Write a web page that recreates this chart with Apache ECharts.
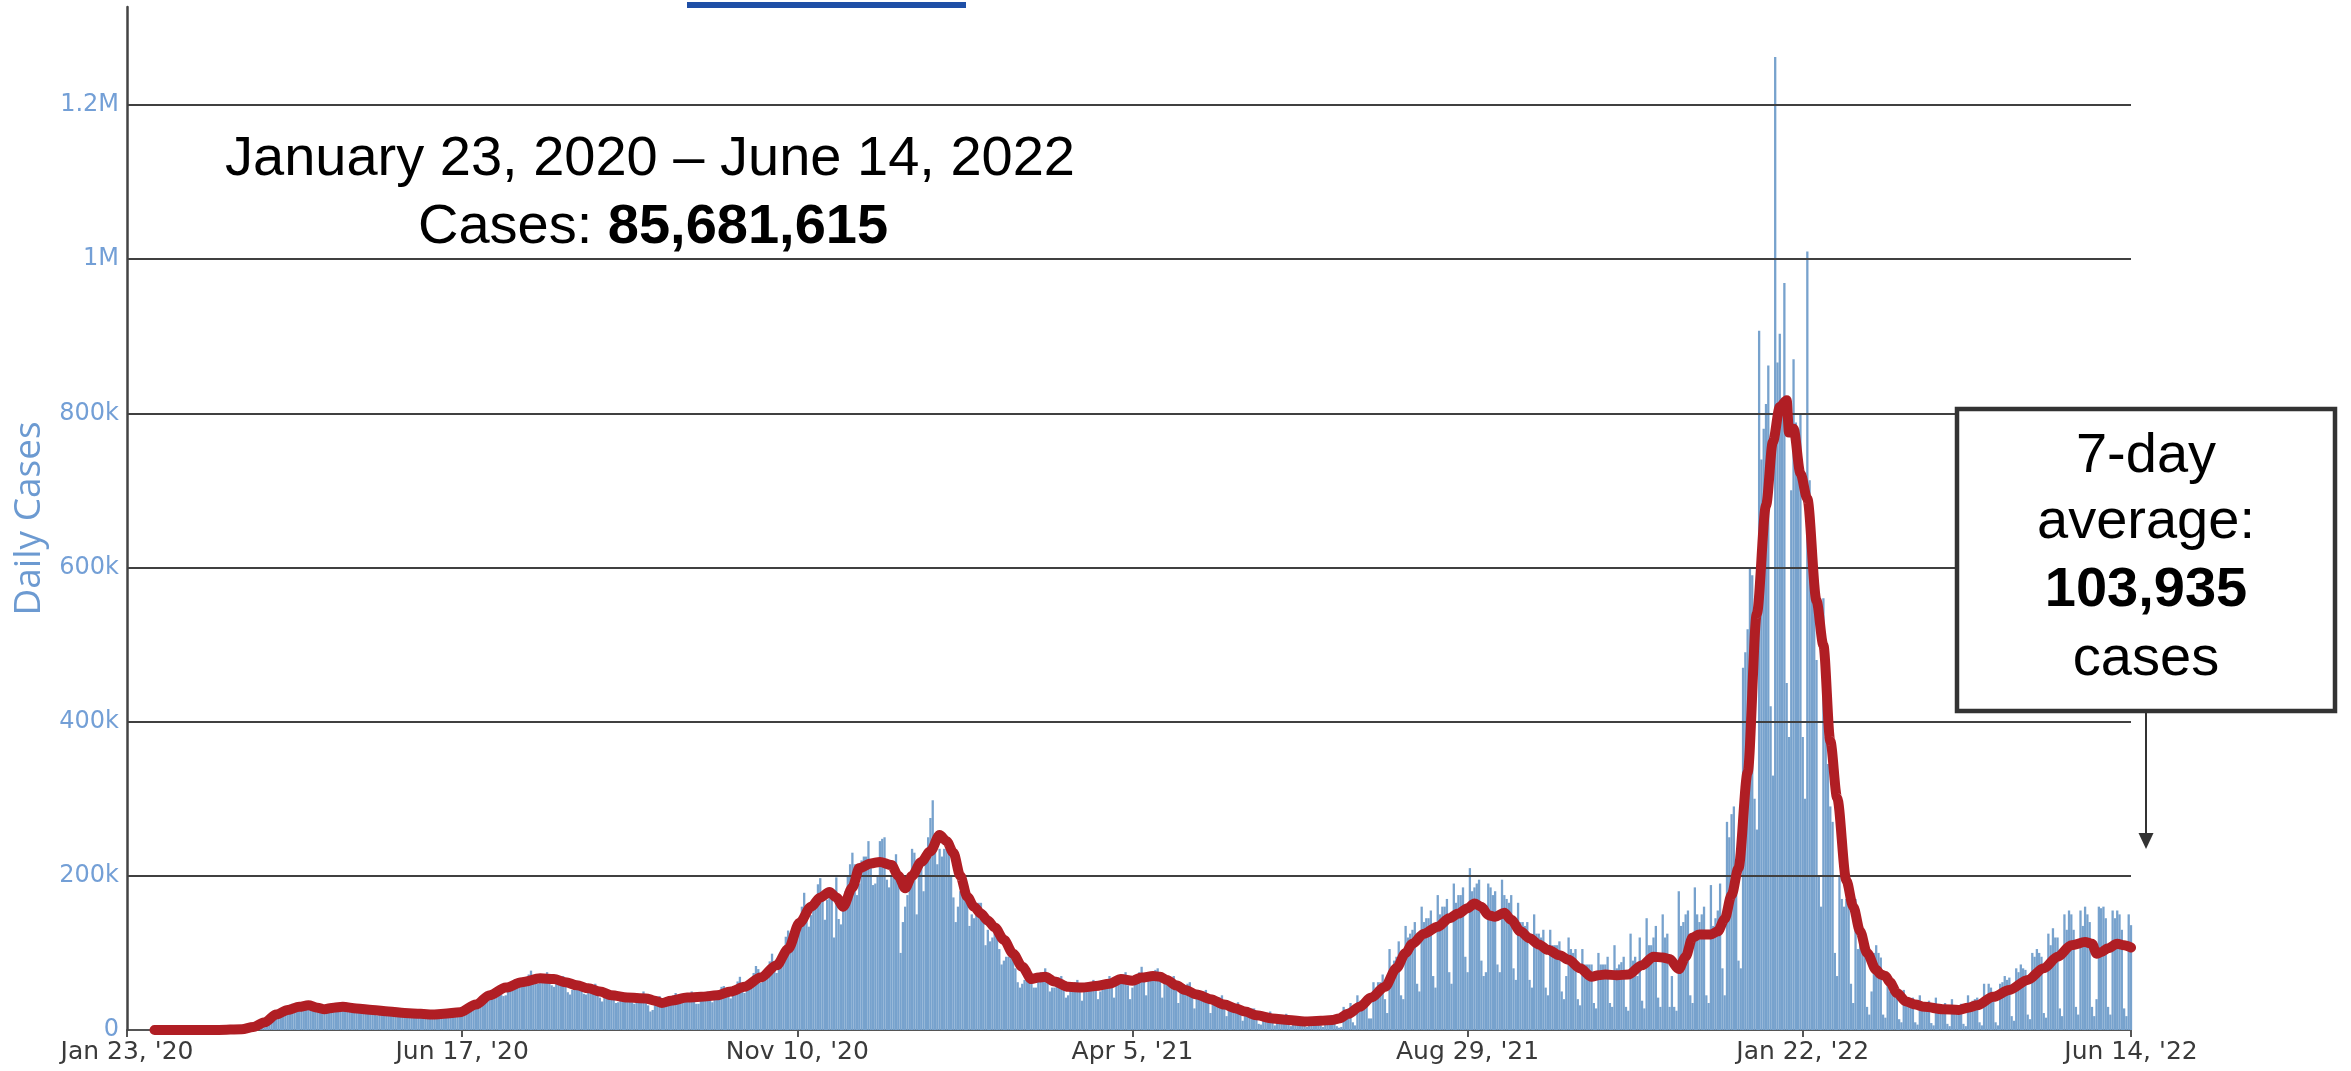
<!DOCTYPE html>
<html>
<head>
<meta charset="utf-8">
<title>Daily Cases</title>
<script src="https://cdn.jsdelivr.net/npm/echarts@6/dist/echarts.min.js"></script>
<style>
  html, body { margin: 0; padding: 0; background: #fff; }
  #main { width: 2351px; height: 1071px; }
</style>
</head>
<body>
<div id="main"></div>
<script>
// daily cases in thousands, day 0 = Jan 23 2020 (one row per month)
const cases2020 = [
  0, 0, 0, 0, 0, 0, 0, 0, 0,
  0, 0, 0, 0, 0, 0, 0, 0, 0, 0, 0, 0, 0, 0, 0, 0, 0, 0, 0, 0, 0, 0, 0, 0, 0, 0, 0, 0, 0,
  0, 0, 0, 0, 0.1, 0.1, 0.1, 0.2, 0.2, 0.3, 0.4, 0.5, 0.7, 0.9, 1.2, 1.6, 2.2, 3, 4.5, 6, 7.5, 9, 11, 12, 14, 18, 19, 21, 21, 23, 26,
  28, 30, 33, 34, 28, 30, 31, 32, 34, 35, 32, 28, 25, 27, 29, 32, 33, 30, 26, 27, 28, 30, 32, 35, 33, 27, 25, 26, 29, 30,
  32, 29, 25, 22, 24, 26, 28, 28, 26, 21, 19, 22, 22, 25, 26, 24, 20, 21, 21, 22, 26, 24, 22, 19, 18, 17, 20, 22, 24, 23, 19,
  18, 20, 20, 21, 23, 22, 18, 17, 19, 21, 22, 24, 25, 20, 19, 23, 25, 27, 32, 32, 27, 29, 35, 37, 39, 45, 43, 39, 40, 44,
  50, 54, 56, 46, 44, 45, 55, 60, 62, 66, 62, 58, 58, 62, 66, 72, 77, 68, 62, 60, 64, 70, 71, 75, 68, 58, 56, 62, 66, 68, 70,
  60, 49, 46, 52, 56, 58, 62, 56, 47, 46, 52, 54, 53, 60, 52, 42, 37, 45, 46, 47, 49, 45, 35, 36, 39, 44, 45, 48, 43, 36, 34,
  42, 40, 45, 50, 42, 32, 24, 26, 33, 36, 44, 41, 34, 33, 38, 39, 45, 48, 42, 35, 40, 38, 39, 44, 50, 45, 34, 34, 40, 39,
  45, 50, 48, 36, 41, 42, 50, 56, 57, 48, 45, 41, 49, 57, 63, 69, 57, 48, 58, 60, 62, 74, 83, 79, 61, 67, 74, 79, 89, 99, 86,
  74, 86, 92, 105, 121, 129, 126, 106, 118, 131, 143, 160, 178, 161, 134, 149, 157, 165, 189, 197, 178, 143, 169, 174, 184, 120, 198, 144, 137, 158,
  180, 200, 215, 230, 215, 175, 190, 220, 225, 225, 245, 218, 188, 190, 200, 245, 248, 250, 195, 185, 200, 198, 228, 195, 100, 140, 160, 175, 200, 235, 230
];
const cases2021 = [
  150, 220, 215, 180, 230, 250, 275, 298, 255, 215, 235, 225, 235, 235, 240, 200, 172, 140, 160, 180, 190, 195, 170, 135, 150, 145, 155, 165, 165, 140, 110,
  130, 115, 120, 125, 135, 105, 85, 90, 95, 95, 105, 100, 80, 62, 55, 60, 65, 70, 80, 70, 55, 55, 70, 75, 75, 80, 65, 50,
  55, 55, 65, 68, 70, 60, 42, 45, 55, 60, 62, 65, 52, 38, 50, 52, 57, 62, 65, 52, 40, 50, 53, 60, 65, 70, 58, 42, 62, 62, 70,
  72, 75, 58, 40, 55, 62, 72, 75, 82, 65, 45, 68, 70, 75, 78, 80, 65, 42, 62, 62, 68, 68, 70, 52, 35, 50, 52, 58, 60, 62,
  45, 28, 42, 44, 48, 50, 52, 38, 22, 35, 38, 40, 42, 45, 30, 18, 30, 30, 32, 34, 36, 22, 12, 24, 25, 26, 28, 28, 15, 8, 7,
  17, 20, 22, 24, 12, 6, 16, 17, 18, 19, 21, 10, 5, 14, 15, 16, 16, 14, 6, 4, 13, 14, 16, 17, 18, 6, 4, 17, 17, 18,
  18, 15, 5, 3, 4, 30, 25, 28, 35, 10, 6, 45, 38, 35, 37, 42, 15, 15, 62, 55, 62, 62, 72, 40, 22, 105, 80, 90, 95, 115, 45,
  40, 135, 120, 125, 130, 140, 60, 50, 160, 140, 145, 145, 155, 70, 55, 175, 150, 160, 160, 170, 75, 60, 190, 165, 175, 175, 185, 95, 75, 210, 180,
  185, 190, 195, 90, 70, 75, 190, 185, 175, 180, 85, 75, 195, 175, 170, 165, 175, 80, 65, 165, 140, 140, 135, 140, 65, 55, 150, 125, 125, 120,
  130, 55, 45, 130, 110, 110, 110, 115, 50, 40, 70, 120, 105, 100, 105, 40, 32, 105, 85, 85, 85, 85, 35, 28, 100, 85, 85, 85, 95, 35, 30,
  110, 80, 85, 88, 95, 30, 25, 125, 90, 95, 70, 120, 38, 28, 145, 110, 110, 120, 135, 42, 30, 150, 120, 125, 30, 70, 30, 25, 180, 135,
  140, 150, 155, 45, 35, 185, 150, 140, 150, 160, 45, 35, 188, 135, 145, 155, 190, 80, 45, 270, 250, 280, 290, 200, 90, 80, 470, 490, 520, 600, 590
];
const cases2022 = [
  300, 260, 907, 740, 780, 812, 862, 420, 330, 1262, 866, 903, 820, 969, 450, 380, 700, 870, 788, 779, 800, 380, 300, 1010, 713, 581, 573, 480, 200, 160, 560,
  380, 345, 290, 270, 100, 70, 200, 170, 160, 170, 180, 60, 35, 170, 105, 130, 120, 110, 30, 20, 50, 100, 110, 100, 94, 20, 16, 60,
  50, 50, 46, 50, 14, 10, 52, 40, 40, 38, 42, 10, 7, 45, 34, 34, 33, 38, 9, 6, 42, 30, 32, 30, 35, 8, 5, 40, 28, 32, 30,
  34, 8, 5, 45, 32, 38, 40, 42, 10, 6, 60, 45, 60, 55, 40, 10, 6, 60, 62, 70, 65, 68, 18, 12, 80, 75, 85, 80, 78, 20,
  14, 100, 95, 105, 100, 95, 22, 16, 125, 110, 132, 120, 120, 28, 18, 150, 130, 155, 150, 130, 30, 20, 155, 135, 160, 150, 140, 30, 18, 40, 160,
  158, 160, 145, 30, 20, 155, 145, 155, 150, 130, 28, 18, 150, 136
];

// 7-day average (thousands), at these day offsets
const avgDay = [
  12, 40, 50, 55, 60, 65, 70, 75, 79, 83, 86, 90, 94, 100, 107, 114, 121, 128, 133, 138, 145, 152, 158, 165, 172, 180,
  186, 191, 196, 201, 206, 211, 218, 226, 230, 233, 237, 244, 250, 257, 263, 269, 276, 283, 288, 293, 298, 302, 306,
  309, 312, 316, 319, 324, 328, 333, 336, 339, 342, 346, 350, 354, 357, 360, 363, 366, 369, 372, 375, 378, 382, 386,
  390, 394, 397, 400, 404, 410, 416, 422, 428, 433, 438, 442, 447, 450, 453, 457, 461, 466, 472, 478, 483, 487, 492,
  499, 506, 513, 520, 525, 528, 532, 537, 542, 548, 553, 557, 560, 565, 571, 576, 580, 584, 587, 590, 593, 596, 600,
  603, 607, 611, 615, 619, 624, 628, 633, 638, 641, 644, 649, 654, 660, 665, 669, 672, 676, 679, 682, 685, 690, 693,
  696, 699, 702, 706, 710, 714, 717, 720, 723, 724, 726, 729, 732, 736, 739, 742, 745, 749, 752, 755, 758, 762, 764,
  766, 768, 771, 775, 779, 783, 791, 798, 802, 806, 813, 820, 828, 835, 841, 847, 853, 856, 858, 860, 863, 867, 870, 873
];
const avgK = [
  0, 0, 1, 4, 10, 20, 26, 30, 32, 29, 27, 29, 30, 28, 26, 24, 22, 21, 20, 21, 23, 33, 45, 55, 62, 67,
  66, 62, 58, 54, 50, 45, 42, 41, 38, 35, 38, 42, 43, 45, 50, 56, 68, 84, 105, 139, 160, 172, 179,
  172, 160, 185, 210, 216, 218, 214, 200, 184, 200, 218, 232, 253, 245, 230, 200, 173, 160, 151, 142, 133, 117, 99,
  82, 66, 68, 69, 63, 56, 55, 57, 60, 66, 64, 68, 70, 69, 65, 58, 52, 46, 40, 33, 28, 24, 19,
  15, 13, 11, 12, 13, 15, 21, 30, 42, 56, 80, 100, 112, 125, 134, 145, 151, 158, 164, 160, 149, 147, 152,
  143, 128, 119, 111, 104, 97, 91, 80, 69, 71, 72, 71, 72, 84, 95, 94, 92, 79, 95, 120, 124, 124, 128,
  144, 175, 210, 334, 540, 680, 763, 808, 817, 775, 780, 722, 689, 557, 499, 375, 301, 194, 160, 128, 100, 78, 72,
  70, 62, 48, 37, 33, 30, 27, 26, 29, 32, 43, 52, 65, 80, 95, 110, 114, 112, 99, 101, 106, 112, 110, 107
];

const xTickDays = [0, 146, 292, 438, 584, 730, 873];
const xTickLabels = ["Jan 23, '20", "Jun 17, '20", "Nov 10, '20", "Apr 5, '21", "Aug 29, '21", "Jan 22, '22", "Jun 14, '22"];

const daily = cases2020.concat(cases2021, cases2022);
const barData = daily.map((v, i) => [i, v]);
const avgData = avgDay.map((d, i) => [d, avgK[i]]);

const chart = echarts.init(document.getElementById('main'));

const sans = '"Liberation Sans", Arial, sans-serif';

chart.setOption({
  animation: false,
  grid: { left: 127, right: 220, top: 7, bottom: 41, outerBoundsMode: 'none' },
  xAxis: {
    type: 'value',
    min: 0,
    max: 873,
    interval: 146,
    axisLine: { lineStyle: { color: '#555', width: 2 } },
    axisTick: { show: true, length: 7, lineStyle: { color: '#555', width: 2 } },
    axisLabel: {
      formatter: (v) => {
        const k = xTickDays.indexOf(v);
        return k < 0 ? '' : xTickLabels[k];
      },
      color: '#3a3a3a',
      fontFamily: 'DejaVu Sans',
      fontSize: 25,
      margin: 10
    },
    splitLine: { show: false }
  },
  yAxis: {
    type: 'value',
    min: 0,
    max: 1327,
    interval: 200,
    z: 3,
    name: 'Daily Cases',
    nameLocation: 'middle',
    nameGap: 74,
    nameTextStyle: { color: '#6c9ad1', fontFamily: '"Open Sans"', fontSize: 37 },
    axisLine: { show: true, lineStyle: { color: '#444', width: 2.5 } },
    axisTick: { show: false },
    axisLabel: {
      showMaxLabel: false,
      formatter: (v) => {
        if (v % 200 !== 0) return '';
        if (v === 0) return '0';
        return v >= 1000 ? (v / 1000) + 'M' : v + 'k';
      },
      color: '#739fd6',
      fontFamily: 'DejaVu Sans',
      fontSize: 24,
      margin: 8
    },
    splitLine: {
      show: true,
      showMinLine: false,
      showMaxLine: false,
      lineStyle: { color: '#404040', width: 2 }
    }
  },
  series: [
    {
      name: 'Daily Cases',
      type: 'bar',
      data: barData,
      barWidth: 2.3,
      z: 2,
      itemStyle: { color: '#77a2cd' }
    },
    {
      name: '7-day average',
      type: 'line',
      data: avgData,
      z: 5,
      showSymbol: false,
      smooth: 0.3,
      smoothMonotone: 'x',
      lineStyle: { color: '#b01e24', width: 10, cap: 'round', join: 'round' }
    }
  ],
  graphic: [
    // underline of the cut-off slide heading
    { type: 'rect', shape: { x: 687, y: 2, width: 279, height: 6 }, style: { fill: '#1f4fa6' } },
    {
      type: 'text', z: 10,
      style: { text: 'January 23, 2020 \u2013 June 14, 2022', x: 650, y: 160, align: 'center', verticalAlign: 'middle', font: '56px ' + sans, fill: '#000' }
    },
    {
      type: 'text', z: 10,
      style: {
        text: '{n|Cases: }{b|85,681,615}', x: 653, y: 228, align: 'center', verticalAlign: 'middle',
        rich: {
          n: { fontFamily: sans, fontSize: 56, color: '#000' },
          b: { fontFamily: sans, fontSize: 56, fontWeight: 'bold', color: '#000' }
        }
      }
    },
    { type: 'rect', z: 10, shape: { x: 1957, y: 409, width: 378, height: 302 }, style: { fill: '#fff', stroke: '#333', lineWidth: 4.5 } },
    { type: 'text', z: 11, style: { text: '7-day', x: 2146, y: 457, align: 'center', verticalAlign: 'middle', font: '56px ' + sans, fill: '#000' } },
    { type: 'text', z: 11, style: { text: 'average:', x: 2146, y: 523, align: 'center', verticalAlign: 'middle', font: '56px ' + sans, fill: '#000' } },
    { type: 'text', z: 11, style: { text: '103,935', x: 2146, y: 591, align: 'center', verticalAlign: 'middle', font: 'bold 56px ' + sans, fill: '#000' } },
    { type: 'text', z: 11, style: { text: 'cases', x: 2146, y: 660, align: 'center', verticalAlign: 'middle', font: '56px ' + sans, fill: '#000' } },
    { type: 'line', z: 10, shape: { x1: 2146, y1: 712, x2: 2146, y2: 836 }, style: { stroke: '#333', lineWidth: 2 } },
    { type: 'polygon', z: 10, shape: { points: [[2138.5, 833], [2153.5, 833], [2146, 849]] }, style: { fill: '#333' } }
  ]
});

window.addEventListener('resize', () => {
  chart.resize();
});
</script>
</body>
</html>
